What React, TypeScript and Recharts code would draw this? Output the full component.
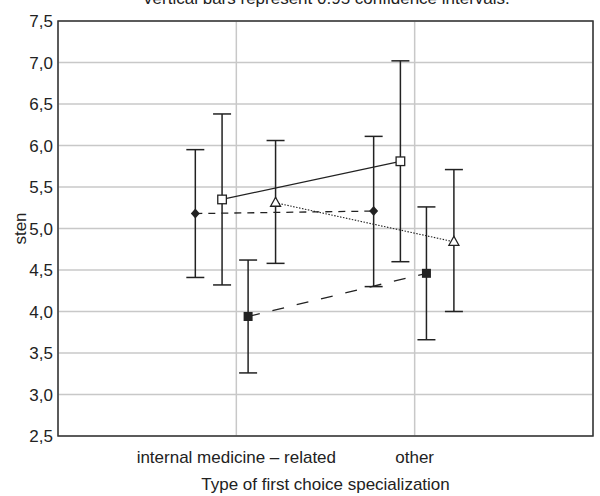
import {
  CartesianGrid,
  ComposedChart,
  ErrorBar,
  Line,
  ReferenceArea,
  XAxis,
  YAxis
} from "recharts";

const categories = ["internal medicine – related", "other"];
const yTicks = [2.5, 3, 3.5, 4, 4.5, 5, 5.5, 6, 6.5, 7, 7.5];

// group means and 0.95 CI bounds, read per category
const diamondMean = [5.18, 5.21];
const diamondLow = [4.41, 4.3];
const diamondHigh = [5.95, 6.11];

const openSquareMean = [5.35, 5.81];
const openSquareLow = [4.32, 4.6];
const openSquareHigh = [6.38, 7.02];

const filledSquareMean = [3.94, 4.46];
const filledSquareLow = [3.26, 3.66];
const filledSquareHigh = [4.62, 5.26];

const triangleMean = [5.31, 4.84];
const triangleLow = [4.58, 4.0];
const triangleHigh = [6.06, 5.71];

const INK = "#222";
const FONT = "'Liberation Sans', Arial, sans-serif";

function buildSeries(mean: number[], low: number[], high: number[], offset: number) {
  return categories.map((_, i) => ({
    x: i + 1 + offset,
    y: mean[i],
    err: [mean[i] - low[i], high[i] - mean[i]]
  }));
}

const diamondData = buildSeries(diamondMean, diamondLow, diamondHigh, -0.23);
const openSquareData = buildSeries(openSquareMean, openSquareLow, openSquareHigh, -0.08);
const filledSquareData = buildSeries(filledSquareMean, filledSquareLow, filledSquareHigh, 0.066);
const triangleData = buildSeries(triangleMean, triangleLow, triangleHigh, 0.22);

const renderDiamond = (p: any) => (
  <path
    key={`d-${p.index}`}
    d={`M${p.cx},${p.cy - 5} L${p.cx + 4.5},${p.cy} L${p.cx},${p.cy + 5} L${p.cx - 4.5},${p.cy} Z`}
    fill={INK}
  />
);

const renderOpenSquare = (p: any) => (
  <rect
    key={`os-${p.index}`}
    x={p.cx - 4.3}
    y={p.cy - 4.3}
    width={8.6}
    height={8.6}
    fill="#fff"
    stroke={INK}
    strokeWidth={1.3}
  />
);

const renderFilledSquare = (p: any) => (
  <rect key={`fs-${p.index}`} x={p.cx - 4.5} y={p.cy - 4.5} width={9} height={9} fill={INK} />
);

const renderTriangle = (p: any) => (
  <path
    key={`t-${p.index}`}
    d={`M${p.cx},${p.cy - 5.5} L${p.cx + 5},${p.cy + 3.5} L${p.cx - 5},${p.cy + 3.5} Z`}
    fill="#fff"
    stroke={INK}
    strokeWidth={1.3}
  />
);

const StenLabel = (props: any) => {
  const { viewBox } = props;
  const cx = viewBox.x + 20;
  const cy = viewBox.y + viewBox.height / 2;
  return (
    <text
      x={cx}
      y={cy}
      transform={`rotate(-90, ${cx}, ${cy})`}
      textAnchor="middle"
      dominantBaseline="central"
      fontSize={17}
      fontFamily={FONT}
      fill={INK}
    >
      sten
    </text>
  );
};

const tickStyle = { fontSize: 17, fill: INK, fontFamily: FONT };

export default function App() {
  return (
    <div style={{ position: "absolute", left: 0, top: 0, width: 600, height: 496, background: "#fff" }}>
      <ComposedChart width={600} height={496} margin={{ top: 21, right: 7, bottom: 0, left: 0 }}>
        <CartesianGrid stroke="#c8c8c8" strokeWidth={1.5} />
        <XAxis
          type="number"
          dataKey="x"
          domain={[0, 3]}
          ticks={[1, 2]}
          allowDataOverflow
          tickFormatter={(v) => categories[Number(v) - 1] ?? ""}
          tick={tickStyle}
          tickLine={false}
          axisLine={false}
          tickSize={6}
          tickMargin={9}
          height={60}
          label={{
            value: "Type of first choice specialization",
            position: "insideBottom",
            offset: 6,
            style: { fontSize: 17, fill: INK, fontFamily: FONT }
          }}
        />
        <YAxis
          type="number"
          domain={[2.5, 7.5]}
          ticks={yTicks}
          tickFormatter={(v) => Number(v).toFixed(1).replace(".", ",")}
          tick={tickStyle}
          tickLine={false}
          axisLine={false}
          tickSize={3}
          tickMargin={2}
          width={58}
          label={<StenLabel />}
        />
        <ReferenceArea
          x1={0}
          x2={3}
          y1={2.5}
          y2={7.5}
          fill="none"
          fillOpacity={0}
          stroke="#333"
          strokeWidth={1.5}
          ifOverflow="visible"
        />
        <Line
          data={diamondData}
          dataKey="y"
          stroke={INK}
          strokeWidth={1.3}
          strokeDasharray="7 6"
          dot={renderDiamond}
          activeDot={false}
          isAnimationActive={false}
        >
          <ErrorBar dataKey="err" direction="y" width={9} stroke={INK} strokeWidth={1.5} isAnimationActive={false} />
        </Line>
        <Line
          data={openSquareData}
          dataKey="y"
          stroke={INK}
          strokeWidth={1.3}
          dot={renderOpenSquare}
          activeDot={false}
          isAnimationActive={false}
        >
          <ErrorBar dataKey="err" direction="y" width={9} stroke={INK} strokeWidth={1.5} isAnimationActive={false} />
        </Line>
        <Line
          data={filledSquareData}
          dataKey="y"
          stroke={INK}
          strokeWidth={1.3}
          strokeDasharray="12 13"
          dot={renderFilledSquare}
          activeDot={false}
          isAnimationActive={false}
        >
          <ErrorBar dataKey="err" direction="y" width={9} stroke={INK} strokeWidth={1.5} isAnimationActive={false} />
        </Line>
        <Line
          data={triangleData}
          dataKey="y"
          stroke={INK}
          strokeWidth={1.1}
          strokeDasharray="1.5 1.5"
          dot={renderTriangle}
          activeDot={false}
          isAnimationActive={false}
        >
          <ErrorBar dataKey="err" direction="y" width={9} stroke={INK} strokeWidth={1.5} isAnimationActive={false} />
        </Line>
      </ComposedChart>
      <svg
        width={600}
        height={496}
        style={{ position: "absolute", left: 0, top: 0, pointerEvents: "none" }}
      >
        <text x={326} y={4} textAnchor="middle" fontSize={17} fontFamily={FONT} fill={INK}>
          Vertical bars represent 0.95 confidence intervals.
        </text>
      </svg>
    </div>
  );
}
